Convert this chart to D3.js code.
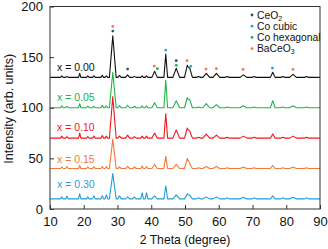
<!DOCTYPE html>
<html>
<head>
<meta charset="utf-8">
<script src="https://cdn.jsdelivr.net/npm/d3@7"></script>
<style>
body { margin: 0; background: #fff; }
text { font-family: "Liberation Sans", Arial, sans-serif; }
</style>
</head>
<body>
<div id="chart"></div>
<script>
// peak positions (2 theta) and half base widths, shared by all samples
const peakPos   = [13.5, 15.0, 18.8, 21.2, 23.0, 25.5, 26.7, 28.6, 30.6, 33.0, 35.0, 37.3, 38.6, 41.0, 44.3, 47.4, 50.7, 51.5, 54.0, 56.3, 59.3, 62.5, 67.3, 70.5, 76.0, 79.0, 82.0, 86.0];
const peakWidth = [0.4, 0.4, 0.35, 0.4, 0.4, 0.4, 0.4, 1.0, 0.5, 0.6, 0.5, 0.4, 0.4, 0.8, 0.55, 1.0, 0.85, 0.7, 0.6, 1.0, 1.0, 0.6, 1.0, 0.6, 0.7, 0.6, 1.0, 0.6];

const samples   = ['x = 0.00', 'x = 0.05', 'x = 0.10', 'x = 0.15', 'x = 0.30'];
const baselines = [130, 100, 70, 40, 10];
const colors    = ['#111111', '#22b24c', '#f2181e', '#f47838', '#1f9fdb'];

// peak heights above baseline, one row per sample
const h000 = [1.5, 1, 4, 1.5, 1.5, 2, 1.5, 41, 2, 2.5, 1, 1.5, 1.5, 6, 23, 9, 12, 8, 0.8, 4, 4, 0.8, 2.5, 0.8, 5, 0.8, 3, 0.8];
const h005 = [2, 1.5, 4, 1.5, 1.5, 2.5, 2, 35, 2, 2.5, 1.5, 2, 2, 5, 27, 7, 10, 7, 0.8, 4, 3, 0.8, 2, 0.8, 7, 0.8, 2, 0.8];
const h010 = [2, 1.5, 5, 1.5, 2, 2.5, 2, 41, 2, 3, 1.5, 2, 2, 5, 24, 8, 10, 6, 0.8, 4, 3, 0.8, 2, 0.8, 4, 0.8, 2, 0.8];
const h015 = [1.5, 2, 3, 1.5, 2, 2, 2, 29, 1.5, 2, 1.5, 2.5, 2, 4, 12, 4, 10, 4, 0.8, 2, 2, 0.8, 1.5, 0.8, 3, 0.8, 1.5, 0.8];
const h030 = [2, 2.5, 5, 2, 3, 3, 4, 25, 3, 2, 2, 6, 6, 3, 13, 4, 5, 3, 1, 2, 2, 1, 1.5, 1, 3, 1, 1.5, 1];
const heights = [h000, h005, h010, h015, h030];

// phase markers: [2 theta, intensity]
const phases     = ['CeO2', 'Co cubic', 'Co hexagonal', 'BaCeO3'];
const phaseColor = ['#1d5877', '#1aa6e2', '#20b24a', '#f47a3a'];
const mCeO2   = [[28.6, 175.7], [33.0, 138.2], [47.4, 146.5]];
const mCoCub  = [[44.3, 157.0], [51.7, 140.9], [75.9, 139.2]];
const mCoHex  = [[41.8, 138.6], [47.4, 141.9]];
const mBaCeO3 = [[28.6, 180.3], [40.9, 141.2], [50.6, 146.5], [56.2, 138.2], [59.3, 138.5], [67.2, 138.0], [82.0, 138.0]];
const markers = [mCeO2, mCoCub, mCoHex, mBaCeO3];

const xTicks = [10, 20, 30, 40, 50, 60, 70, 80, 90];
const yTicks = [0, 50, 100, 150, 200];

const W = 328, H = 249;
const m = {left: 50, right: 8, top: 6.5, bottom: 40};

const x = d3.scaleLinear().domain([10, 90]).range([m.left, W - m.right]);
const y = d3.scaleLinear().domain([0, 200]).range([H - m.bottom, m.top]);

const svg = d3.select('#chart').append('svg')
    .attr('width', W).attr('height', H);

// build a pattern as points: baseline + sum of triangular peaks
function pattern(i) {
    let xs = [10, 90];
    peakPos.forEach((p, k) => xs.push(p - peakWidth[k], p, p + peakWidth[k]));
    xs = Array.from(new Set(xs)).sort((a, b) => a - b);
    return xs.map(t => {
        let v = baselines[i];
        peakPos.forEach((p, k) => {
            const d = Math.abs(t - p);
            if (d < peakWidth[k]) v += heights[i][k] * (1 - d / peakWidth[k]);
        });
        return [t, v];
    });
}

const line = d3.line().x(d => x(d[0])).y(d => y(d[1]));

svg.append('defs').append('clipPath').attr('id', 'clip')
    .append('rect')
    .attr('x', m.left).attr('y', m.top)
    .attr('width', W - m.left - m.right).attr('height', H - m.top - m.bottom);

const g = svg.append('g').attr('clip-path', 'url(#clip)');

// draw bottom sample first so the upper ones sit on top
d3.range(samples.length).reverse().forEach(i => {
    g.append('path')
        .datum(pattern(i))
        .attr('d', line)
        .attr('fill', 'none')
        .attr('stroke', colors[i])
        .attr('stroke-width', 1.1)
        .attr('stroke-linejoin', 'round');
});

// sample labels
const labelLift = [9.5, 10, 10.5, 9, 14];
samples.forEach((s, i) => {
    svg.append('text')
        .attr('x', 57)
        .attr('y', y(baselines[i] + labelLift[i]))
        .attr('dy', '0.35em')
        .attr('font-size', 10.5)
        .attr('fill', colors[i])
        .text(s);
});

// phase markers
markers.forEach((arr, j) => {
    svg.selectAll(null).data(arr).enter().append('circle')
        .attr('cx', d => x(d[0]))
        .attr('cy', d => y(d[1]))
        .attr('r', 1.4)
        .attr('fill', phaseColor[j]);
});

// frame
svg.append('rect')
    .attr('x', m.left).attr('y', m.top)
    .attr('width', W - m.left - m.right).attr('height', H - m.top - m.bottom)
    .attr('fill', 'none').attr('stroke', '#333').attr('stroke-width', 1);

// axes with inward ticks
const xAxis = svg.append('g').attr('transform', `translate(0,${H - m.bottom})`);
xAxis.call(d3.axisBottom(x).tickValues(d3.range(10, 91, 2)).tickSize(-2).tickFormat(''));
xAxis.call(d3.axisBottom(x).tickValues(xTicks).tickSize(-4).tickPadding(8).tickFormat(d3.format('d')));

const yAxis = svg.append('g').attr('transform', `translate(${m.left},0)`);
yAxis.call(d3.axisLeft(y).tickValues(d3.range(0, 201, 10)).tickSize(-2).tickFormat(''));
yAxis.call(d3.axisLeft(y).tickValues(yTicks).tickSize(-4).tickPadding(7).tickFormat(d3.format('d')));

svg.selectAll('.domain').remove();
svg.selectAll('.tick line').attr('stroke', '#333');
svg.selectAll('.tick text').attr('font-size', 13).attr('fill', '#111')
    .style('font-family', '"Liberation Sans", Arial, sans-serif');

// axis titles
svg.append('text')
    .attr('x', x(50)).attr('y', 244)
    .attr('text-anchor', 'middle')
    .attr('font-size', 12.2).attr('fill', '#111')
    .text('2 Theta (degree)');

svg.append('text')
    .attr('transform', `translate(13,${y(100) + 1}) rotate(-90)`)
    .attr('text-anchor', 'middle')
    .attr('font-size', 12.5).attr('fill', '#111')
    .text('Intensity (arb. units)');

// legend
const leg = svg.append('g').attr('transform', 'translate(252,15)');
phases.forEach((p, j) => {
    const row = leg.append('g').attr('transform', `translate(0,${j * 11.2})`);
    row.append('circle').attr('r', 1.4).attr('fill', phaseColor[j]);
    const t = row.append('text').attr('x', 5).attr('dy', '0.35em')
        .attr('font-size', 10.3).attr('fill', '#111');
    const sub = p.match(/^(.*?)(\d)$/);
    if (sub) {
        t.append('tspan').text(sub[1]);
        t.append('tspan').attr('font-size', 7).attr('dy', '0.3em').text(sub[2]);
    } else {
        t.text(p);
    }
});
</script>
</body>
</html>
